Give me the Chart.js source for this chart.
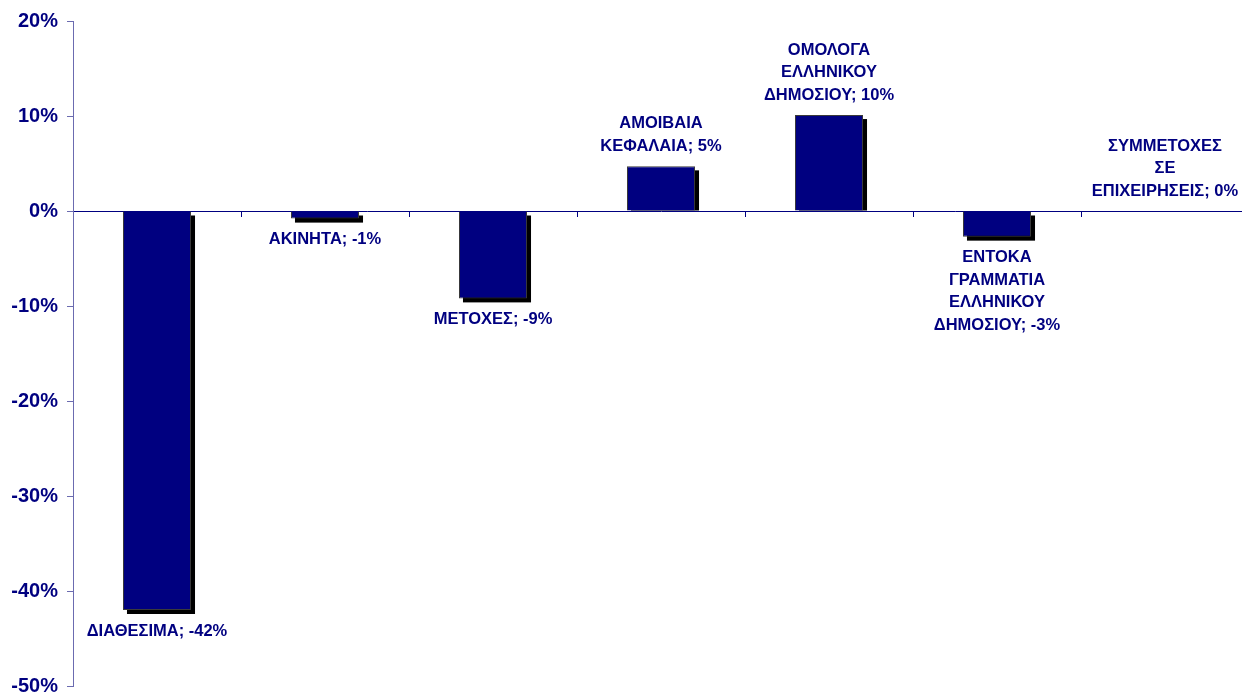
<!DOCTYPE html>
<html>
<head>
<meta charset="utf-8">
<script src="https://cdn.jsdelivr.net/npm/chart.js@4"></script>
<style>
  html, body { margin: 0; padding: 0; background: #fff; overflow: hidden; }
  #wrap { width: 1252px; height: 707px; }
</style>
</head>
<body>
<div id="wrap"><canvas id="grafico" width="1252" height="707"></canvas></div>
<script>
const categories = [
  "ΔΙΑΘΕΣΙΜΑ",
  "ΑΚΙΝΗΤΑ",
  "ΜΕΤΟΧΕΣ",
  "ΑΜΟΙΒΑΙΑ ΚΕΦΑΛΑΙΑ",
  "ΟΜΟΛΟΓΑ ΕΛΛΗΝΙΚΟΥ ΔΗΜΟΣΙΟΥ",
  "ΕΝΤΟΚΑ ΓΡΑΜΜΑΤΙΑ ΕΛΛΗΝΙΚΟΥ ΔΗΜΟΣΙΟΥ",
  "ΣΥΜΜΕΤΟΧΕΣ ΣΕ ΕΠΙΧΕΙΡΗΣΕΙΣ"
];
const values = [-42, -0.8, -9.2, 4.7, 10.1, -2.7, 0];
const valueLabels = ["-42%", "-1%", "-9%", "5%", "10%", "-3%", "0%"];
const yMin = -50, yMax = 20, yStep = 10;

const navy = "#000080";

// each word on its own line, value appended to the last one
function linhas(i) {
  const w = categories[i].split(" ");
  w[w.length - 1] += "; " + valueLabels[i];
  return w;
}

const sombra = {
  id: "sombra",
  beforeDatasetsDraw(chart) {
    const ctx = chart.ctx;
    const meta = chart.getDatasetMeta(0);
    ctx.save();
    ctx.fillStyle = "#000";
    meta.data.forEach(el => {
      const { x, y, base, width } = el.getProps(["x", "y", "base", "width"], true);
      const left = x - width / 2;
      if (y < base) {
        ctx.fillRect(left + 4, y + 4, width, base - y - 4);
      } else if (y > base) {
        ctx.fillRect(left + 4, base + 4, width, y - base);
      }
    });
    ctx.restore();
  }
};

const rotulos = {
  id: "rotulos",
  afterDatasetsDraw(chart) {
    const ctx = chart.ctx;
    const meta = chart.getDatasetMeta(0);
    const lh = 22.5;
    ctx.save();
    ctx.fillStyle = navy;
    ctx.font = "bold 16.5px 'Liberation Sans', Arial, sans-serif";
    ctx.textAlign = "center";
    ctx.textBaseline = "middle";
    meta.data.forEach((el, i) => {
      const { x, y, base } = el.getProps(["x", "y", "base"], true);
      const ls = linhas(i);
      if (values[i] >= 0) {
        const last = Math.min(y, base) - 20;
        ls.forEach((t, k) => ctx.fillText(t, x, last - (ls.length - 1 - k) * lh));
      } else {
        const first = Math.max(y, base) + 21;
        ls.forEach((t, k) => ctx.fillText(t, x, first + k * lh));
      }
    });
    ctx.restore();
  }
};

const ctx = document.getElementById("grafico").getContext("2d");
new Chart(ctx, {
  type: "bar",
  data: {
    labels: categories,
    datasets: [{
      data: values,
      backgroundColor: navy,
      borderColor: "#3a3a3a",
      borderWidth: 1,
      barPercentage: 0.405,
      categoryPercentage: 1
    }]
  },
  options: {
    responsive: false,
    animation: false,
    layout: { padding: { top: 21, right: 3, bottom: 14, left: 0 } },
    plugins: { legend: { display: false }, tooltip: { enabled: false } },
    scales: {
      x: {
        position: { y: 0 },
        afterFit(scale) { scale.height = 0; },
        grid: { display: true, drawOnChartArea: false, drawTicks: true, tickLength: 5, color: navy, offset: true },
        border: { display: true, color: navy, width: 1 },
        ticks: { display: false }
      },
      y: {
        min: yMin,
        max: yMax,
        afterFit(scale) { scale.width = 73; },
        ticks: {
          stepSize: yStep,
          padding: 9,
          color: navy,
          font: { family: "'Liberation Sans', Arial, sans-serif", size: 20, weight: "bold" },
          callback: v => v + "%"
        },
        grid: { display: true, drawOnChartArea: false, drawTicks: true, tickLength: 6, color: "#6b6bb0" },
        border: { display: true, color: "#6b6bb0", width: 1 }
      }
    }
  },
  plugins: [sombra, rotulos]
});
</script>
</body>
</html>
